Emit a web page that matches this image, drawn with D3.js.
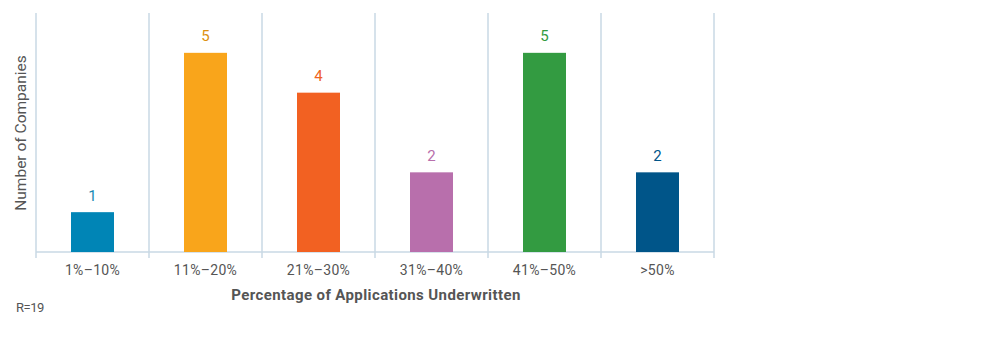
<!DOCTYPE html>
<html><head><meta charset="utf-8">
<script src="https://cdn.jsdelivr.net/npm/d3@7"></script>
<style>body{margin:0;background:#fff;font-family:Roboto,"Noto Sans",sans-serif;}</style>
</head><body>
<svg id="chart" width="1000" height="355"></svg>
<script>
const categories = ["1%\u201310%","11%\u201320%","21%\u201330%","31%\u201340%","41%\u201350%",">50%"];
const values = [1,5,4,2,5,2];
const barColors = ["#0085b6","#f9a51b","#f26122","#b86fac","#339b41","#005589"];
const labelColors = ["#1a8ab3","#dc900f","#ef6322","#b86fac","#339b41","#005589"];

(function(){
const svg = d3.select("#chart");
const mLeft = 36, mRight = 714, mTop = 13, mBottom = 252;
const x = d3.scaleBand().domain(categories).range([mLeft, mRight]).paddingInner(0).paddingOuter(0);
const y = d3.scaleLinear().domain([0, 6]).range([mBottom, mTop]);
const grid = "#c8d8e4";

const bounds = categories.map(c => x(c)).concat([mRight]);
svg.append("g").selectAll("line").data(bounds).join("line")
  .attr("x1", d => d).attr("x2", d => d)
  .attr("y1", mTop).attr("y2", mBottom + 6)
  .attr("stroke", grid).attr("stroke-width", 1.5);

svg.append("line").attr("x1", mLeft).attr("x2", mRight)
  .attr("y1", mBottom).attr("y2", mBottom)
  .attr("stroke", grid).attr("stroke-width", 1.5);

const bw = 43;
svg.append("g").selectAll("rect").data(values).join("rect")
  .attr("x", (d,i) => x(categories[i]) + x.bandwidth()/2 - bw/2)
  .attr("width", bw)
  .attr("y", d => y(d))
  .attr("height", d => mBottom - y(d))
  .attr("fill", (d,i) => barColors[i]);

svg.append("g").selectAll("text").data(values).join("text")
  .attr("x", (d,i) => x(categories[i]) + x.bandwidth()/2)
  .attr("y", d => y(d) - 11.5)
  .attr("text-anchor", "middle")
  .attr("font-size", 15)
  .attr("fill", (d,i) => labelColors[i])
  .text(d => d);

svg.append("g").selectAll("text").data(categories).join("text")
  .attr("x", d => x(d) + x.bandwidth()/2)
  .attr("y", 275)
  .attr("text-anchor", "middle")
  .attr("font-size", 14)
  .attr("letter-spacing", 0.3)
  .attr("fill", "#555")
  .text(d => d);

svg.append("text").attr("x", (mLeft+mRight)/2 + 1).attr("y", 300)
  .attr("text-anchor","middle").attr("font-size",15).attr("font-weight","bold")
  .attr("letter-spacing", 0.4)
  .attr("fill","#555").text("Percentage of Applications Underwritten");

svg.append("text").attr("transform", `translate(26,133) rotate(-90)`)
  .attr("text-anchor","middle").attr("font-size",15.5)
  .attr("fill","#555").text("Number of Companies");

svg.append("text").attr("x",16).attr("y",312).attr("font-size",13)
  .attr("letter-spacing", -0.5)
  .attr("fill","#555").text("R=19");
})();
</script>
</body></html>
